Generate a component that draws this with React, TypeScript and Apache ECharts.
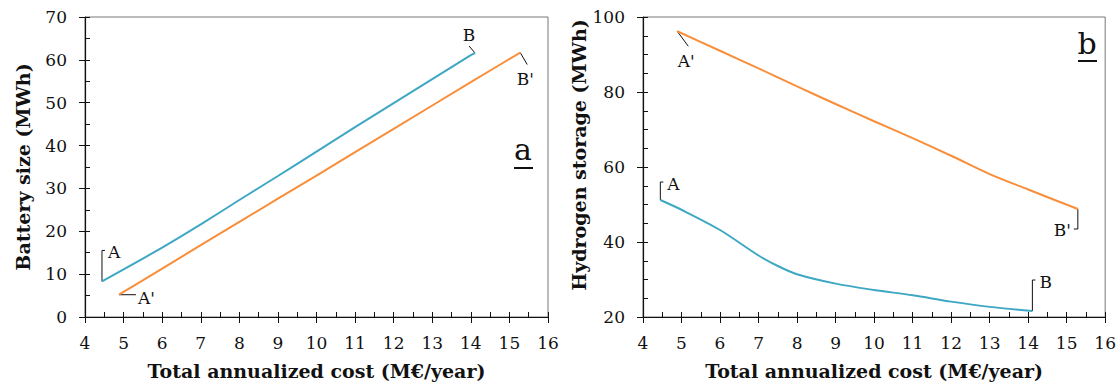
import React, { useEffect, useRef } from "react";
import * as echarts from "echarts";

// Panel a: battery size vs total annualized cost
const batteryBlueCost = [4.44, 5, 6, 7, 8, 9, 10, 11, 12, 13, 14, 14.11];
const batteryBlue = [8.3, 11.1, 16.2, 21.6, 27.3, 32.9, 38.6, 44.3, 49.9, 55.5, 61.1, 61.6];
const batteryOrangeCost = [4.88, 6, 8, 10, 12, 14, 15.28];
const batteryOrange = [5.2, 11.3, 22.2, 33.0, 43.9, 54.8, 61.7];

// Panel b: hydrogen storage vs total annualized cost
const h2BlueCost = [4.45, 5, 6, 7, 7.5, 8, 9, 10, 11, 12, 13, 14.11];
const h2Blue = [51.2, 48.6, 43.2, 36.4, 33.6, 31.4, 28.9, 27.2, 25.8, 24.1, 22.7, 21.6];
const h2OrangeCost = [4.89, 6, 7, 8, 9, 10, 11, 12, 13, 14, 15.29];
const h2Orange = [96.2, 91, 86.3, 81.5, 76.8, 72.2, 67.7, 63, 58.1, 54, 48.8];

const xTitle = "Total annualized cost (M€/year)";
const yTitleA = "Battery size (MWh)";
const yTitleB = "Hydrogen storage (MWh)";

const BLUE = "#3ea8c4";
const ORANGE = "#f98e3a";
const SERIF = '"DejaVu Serif", serif';

const zip = (xs: number[], ys: number[]) => xs.map((x, i) => [x, ys[i]]);

export default function App() {
  const ref = useRef<HTMLDivElement>(null);
  useEffect(() => {
    document.body.style.margin = "0";
    const chart = echarts.init(ref.current!, null, { renderer: "svg" });
    const grids = [
      { left: 85, right: 571, top: 17, bottom: 70 },
      { left: 643, right: 12, top: 17, bottom: 70 },
    ].map((g) => ({ ...g, show: true, borderColor: "#777", borderWidth: 1 }));

    const xMain = (gi: number) => ({
      type: "value",
      gridIndex: gi,
      min: 4,
      max: 16,
      interval: 1,
      name: xTitle,
      nameLocation: "middle",
      nameGap: 44,
      nameTextStyle: { fontFamily: SERIF, fontWeight: "bold", fontSize: 19, color: "#111" },
      axisLine: { show: true, lineStyle: { color: "#111", width: 1.2 } },
      axisTick: { show: true, inside: true, length: 5, lineStyle: { color: "#111" } },
      minorTick: { show: true, splitNumber: 2, length: 5, lineStyle: { color: "#111" } },
      axisLabel: { fontFamily: SERIF, fontSize: 17, color: "#111", margin: 17 },
      splitLine: { show: false },
    });
    const xOver = (gi: number) => ({
      type: "value",
      gridIndex: gi,
      min: 4,
      max: 16,
      interval: 1,
      position: "bottom",
      axisLine: { show: false },
      axisTick: { show: true, inside: false, length: 6, lineStyle: { color: "#111" } },
      axisLabel: { show: false },
      splitLine: { show: false },
    });
    const yMain = (gi: number, min: number, max: number, interval: number, split: number, name: string, pad: number) => ({
      type: "value",
      gridIndex: gi,
      min,
      max,
      interval,
      name,
      nameLocation: "middle",
      nameGap: 53,
      nameTextStyle: {
        fontFamily: SERIF,
        fontWeight: "bold",
        fontSize: 19,
        color: "#111",
        padding: [0, 0, 0, pad],
      },
      axisLine: { show: true, lineStyle: { color: "#111", width: 1.2 } },
      axisTick: { show: true, inside: true, length: 5, lineStyle: { color: "#111" } },
      minorTick: { show: true, splitNumber: split, length: 5, lineStyle: { color: "#111" } },
      axisLabel: { fontFamily: SERIF, fontSize: 17, color: "#111", margin: 18 },
      splitLine: { show: false },
    });
    const yOver = (gi: number, min: number, max: number, interval: number) => ({
      type: "value",
      gridIndex: gi,
      min,
      max,
      interval,
      position: "left",
      axisLine: { show: false },
      axisTick: { show: true, inside: false, length: 6, lineStyle: { color: "#111" } },
      axisLabel: { show: false },
      splitLine: { show: false },
    });

    const line = (name: string, data: number[][], color: string, xi: number, yi: number, smooth: number) => ({
      type: "line",
      name,
      data,
      xAxisIndex: xi,
      yAxisIndex: yi,
      showSymbol: false,
      smooth,
      lineStyle: { color, width: 2 },
      itemStyle: { color },
    });

    chart.setOption({
      animation: false,
      backgroundColor: "#fff",
      grid: grids,
      xAxis: [xMain(0), xOver(0), xMain(1), xOver(1)],
      yAxis: [
        yMain(0, 0, 70, 10, 2, yTitleA, 0),
        yOver(0, 0, 70, 10),
        yMain(1, 20, 100, 20, 4, yTitleB, 24),
        yOver(1, 20, 100, 20),
      ],
      series: [
        line("Battery A–B", zip(batteryBlueCost, batteryBlue), BLUE, 0, 0, 0.2),
        line("Battery A'–B'", zip(batteryOrangeCost, batteryOrange), ORANGE, 0, 0, 0.2),
        line("Hydrogen A–B", zip(h2BlueCost, h2Blue), BLUE, 2, 2, 0.3),
        line("Hydrogen A'–B'", zip(h2OrangeCost, h2Orange), ORANGE, 2, 2, 0.3),
      ],
    });

    const px = (gi: number, x: number, y: number) =>
      chart.convertToPixel({ gridIndex: gi } as any, [x, y]) as number[];
    const last = (a: number[]) => a[a.length - 1];

    const seg = (x1: number, y1: number, x2: number, y2: number) => ({
      type: "line",
      shape: { x1, y1, x2, y2 },
      style: { stroke: "#111", lineWidth: 1 },
      silent: true,
    });
    const txt = (text: string, x: number, y: number, align = "left", size = 17) => ({
      type: "text",
      x,
      y,
      style: { text, fontFamily: SERIF, fontSize: size, fill: "#111", align, verticalAlign: "middle" },
      silent: true,
    });

    const g: any[] = [];
    // Panel a
    const aA = px(0, batteryBlueCost[0], batteryBlue[0]);
    g.push(seg(aA[0], aA[1], aA[0], aA[1] - 31), seg(aA[0], aA[1] - 31, aA[0] + 3, aA[1] - 31), txt("A", aA[0] + 6, aA[1] - 29));
    const aAp = px(0, batteryOrangeCost[0], batteryOrange[0]);
    g.push(seg(aAp[0], aAp[1], aAp[0] + 17, aAp[1]), txt("A'", aAp[0] + 19, aAp[1] + 3));
    const aB = px(0, last(batteryBlueCost), last(batteryBlue));
    g.push(seg(aB[0], aB[1], aB[0] - 6, aB[1] - 7), txt("B", aB[0] - 6, aB[1] - 18, "center"));
    const aBp = px(0, last(batteryOrangeCost), last(batteryOrange));
    g.push(seg(aBp[0], aBp[1], aBp[0] + 7, aBp[1] + 12), txt("B'", aBp[0] + 5, aBp[1] + 26, "center"));
    // Panel b
    const bAp = px(1, h2OrangeCost[0], h2Orange[0]);
    g.push(seg(bAp[0], bAp[1], bAp[0] + 11, bAp[1] + 15), txt("A'", bAp[0] + 9, bAp[1] + 30, "center"));
    const bA = px(1, h2BlueCost[0], h2Blue[0]);
    g.push(seg(bA[0], bA[1], bA[0], bA[1] - 18), seg(bA[0], bA[1] - 18, bA[0] + 3, bA[1] - 18), txt("A", bA[0] + 7, bA[1] - 16));
    const bBp = px(1, last(h2OrangeCost), last(h2Orange));
    g.push(seg(bBp[0], bBp[1], bBp[0], bBp[1] + 20), seg(bBp[0], bBp[1] + 20, bBp[0] - 4, bBp[1] + 20), txt("B'", bBp[0] - 7, bBp[1] + 21, "right"));
    const bB = px(1, last(h2BlueCost), last(h2Blue));
    g.push(seg(bB[0], bB[1], bB[0], bB[1] - 31), seg(bB[0], bB[1] - 31, bB[0] + 3, bB[1] - 31), txt("B", bB[0] + 7, bB[1] - 29));

    // Panel letters (underlined)
    g.push(
      { type: "text", x: 523, y: 164, style: { text: "a", fontFamily: SERIF, fontSize: 30, fill: "#111", align: "center", verticalAlign: "bottom" } },
      { type: "line", shape: { x1: 514, y1: 168, x2: 533, y2: 168 }, style: { stroke: "#111", lineWidth: 2 } },
      { type: "text", x: 1087, y: 58, style: { text: "b", fontFamily: SERIF, fontSize: 30, fill: "#111", align: "center", verticalAlign: "bottom" } },
      { type: "line", shape: { x1: 1078, y1: 61, x2: 1097, y2: 61 }, style: { stroke: "#111", lineWidth: 2 } }
    );

    chart.setOption({ graphic: g });
    return () => chart.dispose();
  }, []);
  return <div ref={ref} style={{ width: 1119, height: 387 }} />;
}
